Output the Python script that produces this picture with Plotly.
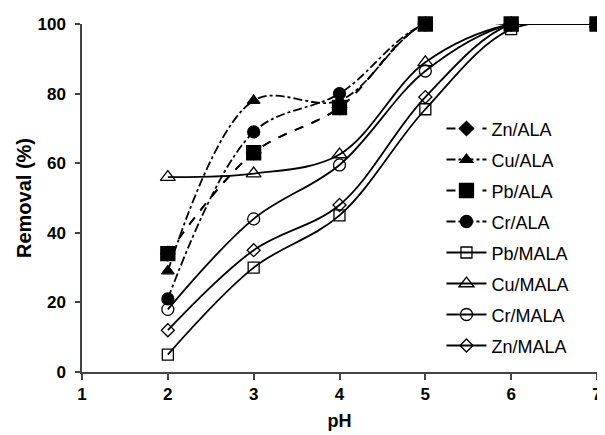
import plotly.graph_objects as go

ph = [2, 3, 4, 5, 6, 7]

zn_ala = [34, 63, 76, 100, 100, 100]
cu_ala = [29, 78, 78, 100, 100, 100]
pb_ala = [34, 63, 76, 100, 100, 100]
cr_ala = [21, 69, 80, 100, 100, 100]
pb_mala = [5, 30, 45, 75.5, 98.5, 100]
cu_mala = [56, 57, 62.5, 89, 100, 100]
cr_mala = [18, 44, 59.5, 86.5, 100, 100]
zn_mala = [12, 35, 48, 79, 100, 100]

x_ticks = [1, 2, 3, 4, 5, 6, 7]
y_ticks = [0, 20, 40, 60, 80, 100]

series = [
    ("Zn/ALA", zn_ala, "diamond", "dash", 11),
    ("Cu/ALA", cu_ala, "triangle-up", "dashdot", 11),
    ("Pb/ALA", pb_ala, "square", "dash", 14),
    ("Cr/ALA", cr_ala, "circle", "dashdot", 12),
    ("Pb/MALA", pb_mala, "square-open", "solid", 11),
    ("Cu/MALA", cu_mala, "triangle-up-open", "solid", 13),
    ("Cr/MALA", cr_mala, "circle-open", "solid", 12),
    ("Zn/MALA", zn_mala, "diamond-open", "solid", 10),
]

fig = go.Figure()
for i, (name, vals, sym, dash, size) in enumerate(series):
    fig.add_trace(go.Scatter(
        x=ph, y=vals, name=name, mode="lines+markers",
        line=dict(color="black", width=1.8, dash=dash, shape="spline", smoothing=1),
        marker=dict(symbol=sym, size=size, color="black",
                    line=dict(color="black", width=1.3)),
        legendgroup="g%d" % i, cliponaxis=False,
    ))

# page body adds an 8px margin, so the figure is sized to fit the window
fig.update_layout(
    width=597, height=427,
    margin=dict(l=74, r=3, t=16, b=63),
    paper_bgcolor="white", plot_bgcolor="white",
    font=dict(family="Liberation Sans, Arial, sans-serif", color="black"),
    showlegend=True,
    legend=dict(x=0.698, y=0.752, xanchor="left", yanchor="top",
                font=dict(size=18), bgcolor="rgba(0,0,0,0)",
                tracegroupgap=4.6, itemwidth=40),
)
fig.update_xaxes(
    range=[1, 7], tickvals=x_ticks,
    showgrid=False, zeroline=False,
    showline=True, linecolor="#444", linewidth=1.5,
    ticks="outside", ticklen=6, tickcolor="#444", tickwidth=1.5,
    tickfont=dict(size=17, weight="bold"), ticklabeloverflow="allow",
    title=dict(text="pH", font=dict(size=18, weight="bold"), standoff=11),
)
fig.update_yaxes(
    range=[0, 100], tickvals=y_ticks, showgrid=False, zeroline=False,
    showline=True, linecolor="#444", linewidth=1.5,
    ticks="outside", ticklen=5, tickcolor="#444", tickwidth=1.5,
    tickfont=dict(size=17, weight="bold"), ticklabelstandoff=6,
    title=dict(text="Removal (%)", font=dict(size=20, weight="bold"), standoff=0),
)
fig.write_html("out.html")
